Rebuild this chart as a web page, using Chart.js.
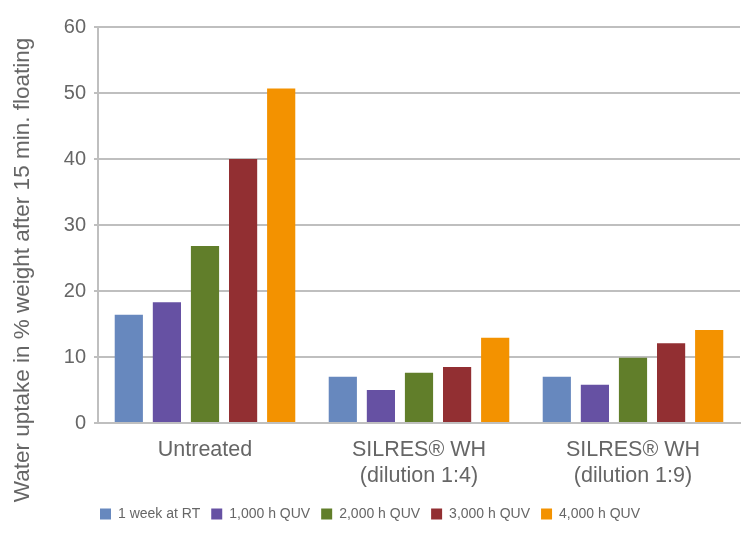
<!DOCTYPE html>
<html>
<head>
<meta charset="utf-8">
<script src="https://cdn.jsdelivr.net/npm/chart.js@4.4.0/dist/chart.umd.min.js"></script>
<style>
  html, body { margin: 0; padding: 0; background: #fff; }
  #wrap { width: 750px; height: 539px; }
</style>
</head>
<body>
<div id="wrap"><canvas id="chart" width="750" height="539"></canvas></div>
<script>
// ===== DATA =====
const categories = ["Untreated", ["SILRES\u00AE WH", "(dilution 1:4)"], ["SILRES\u00AE WH", "(dilution 1:9)"]];
const seriesNames = ["1 week at RT", "1,000 h QUV", "2,000 h QUV", "3,000 h QUV", "4,000 h QUV"];
const week1 = [16.4, 7.0, 7.0];
const quv1000 = [18.3, 5.0, 5.8];
const quv2000 = [26.8, 7.6, 9.9];
const quv3000 = [40.0, 8.5, 12.1];
const quv4000 = [50.7, 12.9, 14.1];
const yTicks = [0, 10, 20, 30, 40, 50, 60];
const colors = ["#6788BE", "#6651A3", "#617E2A", "#922F32", "#F39200"];
const yTitle = "Water uptake in % weight after 15 min. floating";

const FONT = "'Liberation Sans', Arial, sans-serif";
const TEXT = "#666666";
const GRID = "#BFBFBF";

// draw the rotated y title ourselves so it can sit where the original has it
const yTitlePlugin = {
  id: "yTitle",
  afterDraw(chart) {
    const ctx = chart.ctx;
    ctx.save();
    ctx.translate(23, 270);
    ctx.rotate(-Math.PI / 2);
    ctx.font = "22.5px " + FONT;
    ctx.fillStyle = TEXT;
    ctx.textAlign = "center";
    ctx.textBaseline = "middle";
    ctx.fillText(yTitle, 0, 0);
    ctx.restore();
  }
};

const seriesData = [week1, quv1000, quv2000, quv3000, quv4000];

new Chart(document.getElementById("chart"), {
  type: "bar",
  data: {
    labels: categories,
    datasets: seriesNames.map((name, i) => ({
      label: name,
      data: seriesData[i],
      backgroundColor: colors[i],
      borderWidth: 0,
      categoryPercentage: 0.89,
      barPercentage: 0.74
    }))
  },
  options: {
    responsive: false,
    animation: false,
    devicePixelRatio: 1,
    layout: { padding: { top: 27, right: 10, left: 0, bottom: 8 } },
    plugins: {
      legend: {
        position: "bottom",
        labels: {
          font: { family: FONT, size: 14 },
          color: TEXT,
          boxWidth: 11,
          boxHeight: 11,
          padding: 11
        }
      },
      tooltip: { enabled: false }
    },
    scales: {
      x: {
        grid: { display: false, drawTicks: false },
        border: { color: GRID, width: 2 },
        ticks: {
          font: { family: FONT, size: 21.5, lineHeight: 1.2 },
          color: TEXT,
          padding: 14,
          maxRotation: 0
        },
        afterFit(scale) { scale.height = 73; }
      },
      y: {
        min: 0,
        max: 60,
        afterBuildTicks(scale) { scale.ticks = yTicks.map(v => ({ value: v })); },
        grid: { color: GRID, lineWidth: 2, tickLength: 4 },
        border: { color: GRID, width: 2 },
        ticks: {
          font: { family: FONT, size: 20 },
          color: TEXT,
          padding: 8
        },
        afterFit(scale) { scale.width = 98; }
      }
    }
  },
  plugins: [yTitlePlugin]
});
</script>
</body>
</html>
